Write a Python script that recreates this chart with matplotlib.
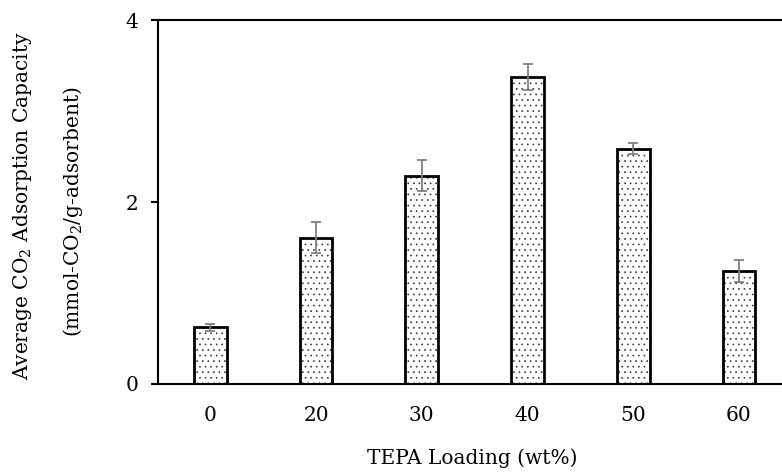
import matplotlib
matplotlib.use("Agg")
import matplotlib.pyplot as plt
import numpy as np

categories = ["0", "20", "30", "40", "50", "60"]
capacity = [0.62, 1.61, 2.29, 3.38, 2.59, 1.24]
errors = [0.04, 0.17, 0.17, 0.14, 0.06, 0.12]
yticks = [0, 2, 4]

plt.rcParams['font.family'] = ['DejaVu Serif']
plt.rcParams['mathtext.default'] = 'regular'
plt.rcParams['hatch.linewidth'] = 0.5

fig = plt.figure(figsize=(7.82, 4.73), dpi=100)
ax = fig.add_axes([157.5/782, 89.3/473, (791.8-157.5)/782, 363.2/473])

x = np.arange(len(categories))
ax.bar(x, capacity, width=0.31, facecolor='white', edgecolor='#3a3a3a',
       linewidth=0, hatch='...', zorder=2)
ax.bar(x, capacity, width=0.31, fill=False, edgecolor='black',
       linewidth=2.0, zorder=2.5)
ax.errorbar(x, capacity, yerr=errors, fmt='none', ecolor='#808080',
            elinewidth=1.3, capsize=3.6, capthick=1.3, zorder=3)

ax.set_xlim(-0.5, 5.5)
ax.set_ylim(0, 4)
ax.set_xticks(x)
ax.set_xticklabels(categories)
ax.set_yticks(yticks)

for s in ['left', 'top', 'bottom']:
    ax.spines[s].set_linewidth(1.5)
ax.spines['right'].set_visible(False)

fs = 14.5
ax.tick_params(axis='x', length=0, pad=16, labelsize=fs)
ax.tick_params(axis='y', length=5, width=1.5, pad=9, labelsize=fs)

fig.text(23/782, 1 - 206/473, 'Average CO$_2$ Adsorption Capacity', rotation=90,
         ha='center', va='center', fontsize=fs)
fig.text(73/782, 1 - 212/473, '(mmol-CO$_2$/g-adsorbent)', rotation=90,
         ha='center', va='center', fontsize=fs)
fig.text(472/782, 1 - 458/473, 'TEPA Loading (wt%)', ha='center', va='center',
         fontsize=fs)

fig.savefig('out.png', dpi=100)
